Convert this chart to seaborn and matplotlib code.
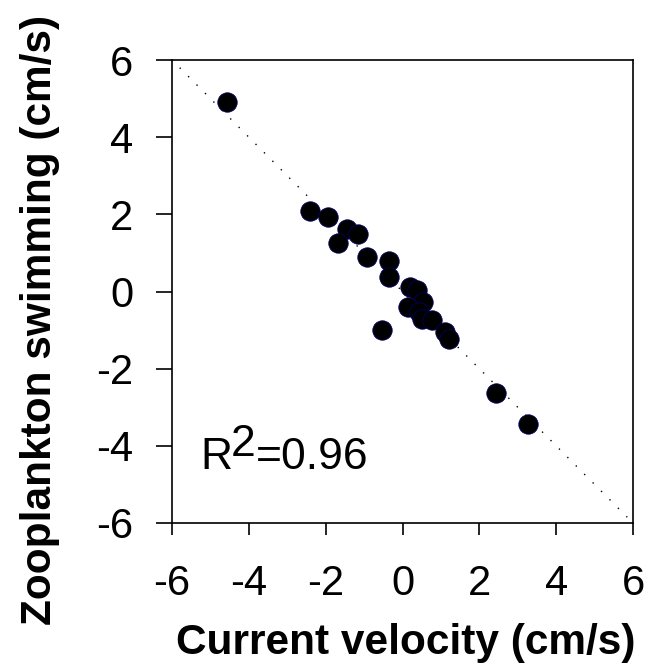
import matplotlib
matplotlib.use("Agg")
import matplotlib.pyplot as plt
import seaborn as sns
import pandas as pd

# values
current_velocity = [-4.58, -2.42, -1.95, -1.45, -1.15, -1.69, -0.92, -0.36, -0.36,
                    0.20, 0.37, 0.53, 0.14, 0.42, 0.50, 0.76, -0.54, 1.11, 1.20,
                    2.43, 3.26]
zooplankton_swimming = [4.90, 2.09, 1.92, 1.63, 1.49, 1.25, 0.90, 0.80, 0.37,
                        0.11, 0.03, -0.26, -0.39, -0.52, -0.72, -0.75, -1.01, -1.05, -1.22,
                        -2.64, -3.43]
fit_x = [-5.8, 5.85]
fit_y = [5.8, -5.85]
ticks = [-6, -4, -2, 0, 2, 4, 6]
r2_text = "0.96"

df = pd.DataFrame({"current": current_velocity, "swim": zooplankton_swimming})

sns.set_theme(style="ticks")
plt.rcParams['font.family'] = ['Liberation Sans', 'DejaVu Sans']
plt.rcParams['text.color'] = 'black'

fig = plt.figure(figsize=(6.5, 6.65), dpi=100)
ax = fig.add_axes([172 / 650, 1 - 523 / 665, 461 / 650, 463 / 665])

ax.plot(fit_x, fit_y, color='black', lw=1.0, linestyle=(0, (1, 7.6)), zorder=1)
sns.scatterplot(data=df, x="current", y="swim", ax=ax, s=195, color='black',
                edgecolor='#000060', linewidth=0.6, zorder=2)

ax.set_xlim(-6, 6)
ax.set_ylim(-6, 6)
ax.set_xticks(ticks)
ax.set_yticks(ticks)
ax.set_xticklabels([str(t) for t in ticks])
ax.set_yticklabels([str(t) for t in ticks])
ax.set_xlabel("")
ax.set_ylabel("")

for side in ['left', 'bottom', 'top', 'right']:
    ax.spines[side].set_visible(True)
    ax.spines[side].set_color('black')
    ax.spines[side].set_linewidth(1.2)

ax.tick_params(axis='x', direction='out', length=8.5, width=1.2, pad=21,
               labelsize=30, colors='black')
ax.tick_params(axis='y', direction='out', length=11.5, width=1.2, pad=16.5,
               labelsize=30, colors='black')

# R^2 note, the "2" is drawn full size and raised
ax.text(-5.27, -4.61, "R", fontsize=32, va='baseline', ha='left', color='black')
ax.text(-4.46, -4.27, "2", fontsize=32, va='baseline', ha='left', color='black')
ax.text(-3.81, -4.61, "=" + r2_text, fontsize=32, va='baseline', ha='left', color='black')

fig.text(406 / 650, 11 / 665, "Current velocity (cm/s)", fontsize=30.5,
         fontweight='bold', ha='center', va='baseline', color='black')
fig.text(40 / 650, 1 - 320 / 665, "Zooplankton swimming (cm/s)", fontsize=30.5,
         fontweight='bold', ha='center', va='center', rotation=90, color='black')

fig.savefig("out.png", dpi=100, facecolor='white')
